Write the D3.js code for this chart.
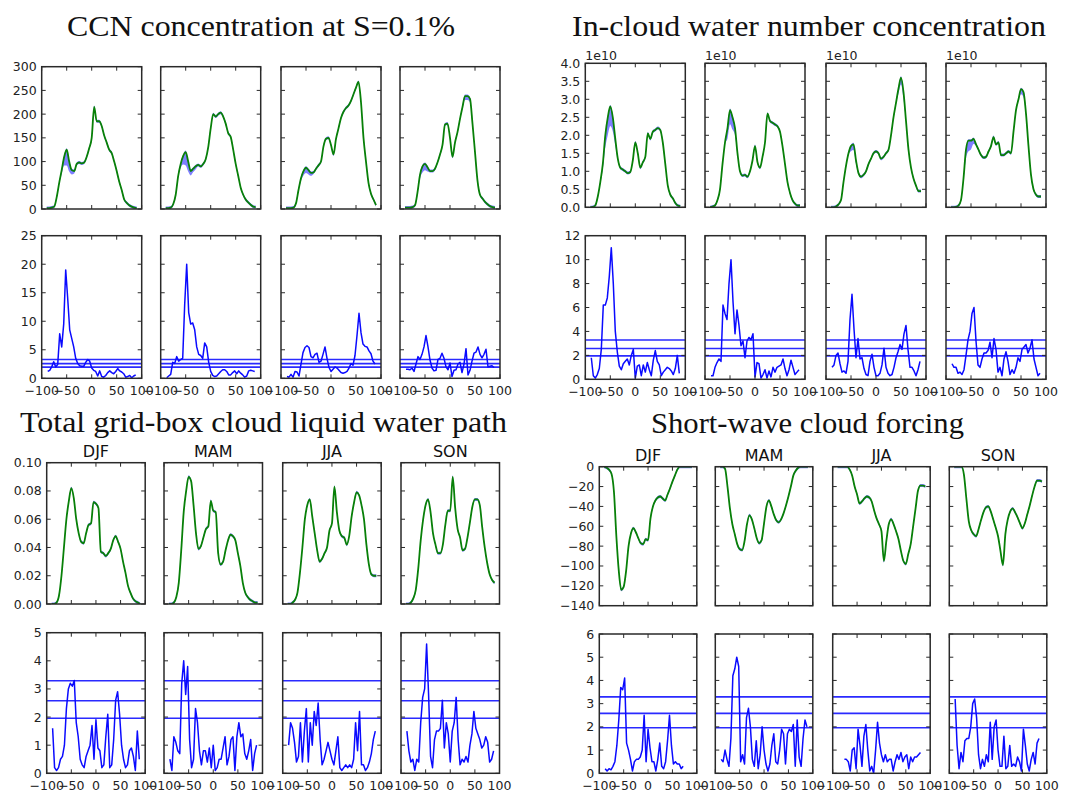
<!DOCTYPE html>
<html>
<head>
<meta charset="utf-8">
<script src="https://cdnjs.cloudflare.com/ajax/libs/d3/7.8.5/d3.min.js"></script>
<style>
  body { margin: 0; background: #fff; }
  svg { display: block; }
  .tick-label { font-family: "DejaVu Sans", sans-serif; font-size: 12.5px; fill: #222; }
  .season { font-family: "DejaVu Sans", sans-serif; font-size: 16px; fill: #111; }
  .quad-title { font-family: "Liberation Serif", serif; font-size: 30px; fill: #111; }
</style>
</head>
<body>
<div id="chart"></div>
<script>

// Latitude grids
var latTop = [-90,-85,-80,-75,-70,-65,-60,-55,-50,-45,-40,-35,-30,-25,-20,-15,-10,-5,0,5,10,15,20,25,30,35,40,45,50,55,60,65,70,75,80,85,90];
var latBot = [-88,-84,-80,-76,-72,-68,-64,-60,-56,-52,-48,-44,-40,-36,-32,-28,-24,-20,-16,-12,-8,-4,0,4,8,12,16,20,24,28,32,36,40,44,48,52,56,60,64,68,72,76,80,84,88];

var seasons = ["DJF", "MAM", "JJA", "SON"];
var xTicks = [-100, -50, 0, 50, 100];
var sigLevels = [1.96, 2.58, 3.29];

// Tick values
var ccnTicks = [0, 50, 100, 150, 200, 250, 300];
var ccnSigTicks = [0, 5, 10, 15, 20, 25];
var cdncTicks = [0, 0.5, 1.0, 1.5, 2.0, 2.5, 3.0, 3.5, 4.0];
var cdncSigTicks = [0, 2, 4, 6, 8, 10, 12];
var lwpTicks = [0, 0.02, 0.04, 0.06, 0.08, 0.10];
var lwpSigTicks = [0, 1, 2, 3, 4, 5];
var swcfTicks = [-140, -120, -100, -80, -60, -40, -20, 0];
var swcfSigTicks = [0, 1, 2, 3, 4, 5, 6];

// CCN concentration at S=0.1% (green line) and spread of the blue band
var ccnDJF = [2,2,3,5,25,55,82,110,125,100,82,80,95,98,96,98,110,128,150,215,185,185,175,155,140,125,118,100,80,58,40,20,13,8,5,3,2];
var ccnMAM = [2,2,3,10,30,70,95,112,120,100,80,85,90,93,90,95,105,130,170,200,195,200,203,195,180,160,152,125,95,70,45,30,20,14,9,5,4];
var ccnJJA = [2,2,2,3,12,40,65,80,87,82,76,77,85,92,100,132,148,150,135,115,148,170,192,205,213,218,228,242,256,268,225,150,100,55,32,20,8];
var ccnSON = [3,3,3,4,8,35,72,90,95,88,80,80,85,98,115,135,178,180,150,110,140,162,190,215,238,238,232,180,120,60,30,22,15,10,6,4,3];
var ccnSpreadDJF = [0,0,0,0,0,0,5,15,30,18,6,2,0,0,0,0,0,0,0,0,0,0,0,0,0,0,0,0,0,0,0,0,0,0,0,0,0];
var ccnSpreadMAM = [0,0,0,0,0,0,5,15,25,18,6,4,3,0,0,0,0,0,0,0,0,0,0,0,0,0,0,0,0,0,0,0,0,0,0,0,0];
var ccnSpreadJJA = [0,0,0,0,0,0,3,6,8,6,3,0,0,0,0,0,0,0,0,0,0,0,0,0,0,0,0,0,0,0,0,0,0,0,0,0,0];
var ccnSpreadSON = [0,0,0,0,0,0,5,10,10,6,0,0,0,0,0,0,0,0,0,0,0,0,0,0,5,5,4,0,0,0,0,0,0,0,0,0,0];

var ccnSigDJF = [1.2,1.4,2.0,2.9,2.0,2.4,7.8,5.5,9.5,19,14,8.5,7,5.5,3.5,2.6,2.2,2.1,2.1,2.8,3.3,3.0,1.8,1.4,1.2,0.4,1.3,0.3,0.2,0.5,1.0,1.3,1.0,0.8,1.2,1.7,1.3,1.1,0.8,0.2,0.3,0.5,0.1,0.4,0.6];
var ccnSigMAM = [0.1,0.4,0.7,2.8,2.6,3.8,3.0,3.3,3.5,13,20,11.5,9.5,9.7,8.5,5.5,4.2,4.0,3.5,6.2,5.5,2.8,1.2,0.5,0.3,0.4,0.8,1.2,1.5,1.5,1.2,0.6,0.6,1.0,1.3,0.8,1.3,0.9,0.6,0.2,0.4,1.3,1.4,1.3,1.2];
var ccnSigJJA = [0.3,0.2,0.7,0.2,1.2,1.1,0.4,2.5,4.5,5.4,5.7,5.4,3.8,3.6,4.2,4.4,2.8,3.0,4.2,5.5,3.5,1.9,1.2,1.6,2.0,1.8,1.4,1.0,0.9,1.0,1.2,1.8,2.6,2.3,4.0,7.5,11.4,8,6,5.6,5.5,4.8,4.3,3.0,2.5];
var ccnSigSON = [1.6,1.6,1.5,1.8,1.2,2.5,3.8,3.3,4.2,5.5,7.5,5.5,3.2,1.8,1.3,1.4,3.3,3.5,4.4,3.5,2.0,1.5,2.7,0.3,1.4,1.5,2.5,2.8,1.0,2.5,5.2,0.6,1.4,3.0,4.4,4.6,5.5,4.2,3.6,4.2,5.1,2.0,2.1,2.2,1.9];

// In-cloud water number concentration (x 1e10)
var cdncDJF = [0,0.01,0.05,0.3,0.7,1.2,2.0,2.5,2.8,2.5,1.9,1.35,1.1,1.05,1.0,0.95,0.98,1.3,1.8,1.5,1.1,1.25,1.4,2.05,1.9,2.1,2.15,2.2,2.15,1.8,1.2,0.6,0.35,0.25,0.12,0.05,0.03];
var cdncMAM = [0,0.02,0.05,0.2,0.5,1.2,1.8,2.2,2.7,2.5,2.2,1.5,1.0,0.88,0.9,0.85,1.0,1.3,1.7,1.25,1.1,1.4,1.8,2.6,2.4,2.35,2.3,2.25,2.1,1.7,1.2,0.7,0.4,0.2,0.1,0.05,0.05];
var cdncJJA = [0,0,0.02,0.08,0.2,0.7,1.15,1.5,1.7,1.75,1.3,0.95,0.85,0.9,1.0,1.2,1.35,1.5,1.55,1.5,1.35,1.4,1.5,1.6,2.0,2.5,2.9,3.3,3.6,3.2,2.4,1.6,1.1,0.8,0.6,0.45,0.45];
var cdncSON = [0,0,0.01,0.05,0.2,0.8,1.6,1.85,1.85,1.9,1.75,1.6,1.45,1.38,1.4,1.55,1.7,1.95,1.75,1.8,1.45,1.45,1.5,1.55,1.5,2.1,2.7,3.0,3.28,3.2,2.6,1.7,0.9,0.5,0.35,0.3,0.3];
var cdncSpreadDJF = [0,0,0,0,0,0.1,0.3,0.45,0.5,0.35,0.15,0,0,0,0,0,0,0,0,0,0,0,0,0,0,0,0,0,0,0,0,0,0,0,0,0,0];
var cdncSpreadMAM = [0,0,0,0,0,0,0,0.25,0.35,0.3,0.15,0,0,0,0,0,0,0,0,0,0,0,0,0,0,0,0,0,0,0,0,0,0,0,0,0,0];
var cdncSpreadJJA = [0,0,0,0,0,0,0,0,0.1,0.12,0.05,0,0,0,0,0,0,0,0,0,0,0,0,0,0,0,0,0.1,0.15,0.15,0,0,0,0,0,0,0];
var cdncSpreadSON = [0,0,0,0,0,0,0.2,0.25,0.2,0.1,0,0,0,0,0,0,0,0,0,0,0,0,0,0,0,0,0,0,0.1,0.1,0,0,0,0,0,0,0];

var cdncSigDJF = [1.8,0.3,0.1,0.4,0.9,2.5,6.2,6.2,6.8,8.6,11,8,4,2.3,1.1,0.8,1.3,1.5,1.7,1.2,2.0,2.5,0.1,1.1,1.2,0.3,1.2,0.6,1.4,0.8,0.3,1.6,2.4,1.5,1.2,0.3,0.6,0.8,1.0,0.9,0.7,0.4,0.9,2.0,0.5];
var cdncSigMAM = [0.3,0.3,1.0,1.4,1.7,1.5,6.2,5.5,5.0,8.0,10,6.5,3.8,5.8,4.5,2.8,3.2,1.8,3.2,3.5,3.3,3.8,0.2,1.4,1.3,0.1,0.4,0.8,0.1,0.7,0.2,1.0,0.6,1.0,1.1,1.2,1.7,0.9,0.3,0.8,1.6,1.0,0.4,0.6,0.8];
var cdncSigJJA = [1.0,1.2,2.0,2.2,1.3,0.6,0.7,0.5,1.5,5.0,7.1,4.2,1.8,3.4,1.7,1.8,0.9,0.4,0.3,1.5,2.1,1.0,0.3,0.3,0.5,1.2,2.6,1.0,0.5,0.3,0.4,1.0,1.8,2.3,2.9,2.5,3.8,4.5,2.5,1.0,1.0,0.7,0.3,0.8,1.5];
var cdncSigSON = [1.3,1.0,1.0,0.5,0.6,0.4,0.8,2.0,3.3,4.0,5.5,6.0,3.2,1.2,1.0,1.7,2.2,2.2,2.4,3.1,1.8,3.4,2.5,0.6,1.0,0.3,1.7,2.3,1.5,0.4,0.8,0.5,1.0,1.8,1.5,2.5,2.7,2.9,2.2,2.6,3.3,1.7,1.0,0.3,0.5];

// Total grid-box cloud liquid water path
var lwpDJF = [0,0,0.001,0.006,0.02,0.04,0.06,0.073,0.082,0.075,0.06,0.05,0.044,0.043,0.05,0.056,0.057,0.072,0.071,0.068,0.037,0.036,0.034,0.036,0.039,0.045,0.048,0.044,0.039,0.03,0.022,0.013,0.008,0.004,0.002,0.001,0];
var lwpMAM = [0,0,0.001,0.005,0.015,0.038,0.065,0.08,0.09,0.087,0.07,0.05,0.039,0.041,0.047,0.053,0.055,0.073,0.066,0.065,0.036,0.028,0.03,0.038,0.045,0.049,0.048,0.045,0.036,0.027,0.015,0.008,0.005,0.003,0.002,0.001,0.001];
var lwpJJA = [0,0,0.001,0.003,0.008,0.022,0.04,0.06,0.07,0.074,0.062,0.05,0.038,0.03,0.032,0.036,0.04,0.052,0.057,0.083,0.065,0.052,0.048,0.047,0.042,0.048,0.062,0.072,0.079,0.077,0.07,0.06,0.042,0.028,0.021,0.02,0.02];
var lwpSON = [0,0,0.001,0.004,0.01,0.025,0.045,0.06,0.07,0.074,0.065,0.05,0.042,0.036,0.036,0.042,0.056,0.066,0.066,0.09,0.068,0.053,0.047,0.038,0.039,0.047,0.058,0.069,0.074,0.074,0.07,0.054,0.04,0.029,0.021,0.017,0.015];

var lwpSigDJF = [1.6,0.2,0.1,0.2,0.5,0.6,1.0,2.3,3.0,3.2,3.1,3.3,1.8,1.3,0.5,0.3,0.2,0.6,0.8,1.0,1.7,0.5,1.9,0.9,0.8,0.2,0.3,1.3,2.1,0.2,0.3,1.2,2.6,2.9,2.1,1.0,0.5,0.2,0.3,0.8,0.9,0.6,0.1,1.5,0.5];
var lwpSigMAM = [0.5,0.1,1.3,1.1,0.8,0.7,3.2,4.0,2.8,3.8,1.2,0.2,0.5,2.3,1.8,0.8,0.3,0.8,0.8,0.4,0.9,0.2,1.0,0.1,0.2,0.5,0.5,0.9,1.3,0.3,0.6,1.2,1.3,0.1,1.3,1.8,1.3,1.4,0.7,0.5,0.8,1.2,0.1,0.7,1.0];
var lwpSigJJA = [1.0,1.8,1.6,1.1,0.4,0.6,1.8,0.4,1.5,2.3,0.4,1.8,1.0,2.2,1.7,2.5,1.2,0.3,0.5,0.8,1.1,0.8,0.5,0.3,0.8,1.3,0.2,0.1,0.2,0.3,0.2,0.3,0.2,0.5,1.8,0.8,2.2,0.3,0.3,0.1,0.2,0.4,0.7,1.2,1.5];
var lwpSigSON = [1.5,0.8,0.4,0.5,0.1,0.5,0.4,1.8,2.7,3.0,4.6,2.8,0.6,0.2,1.2,1.5,1.5,1.6,2.6,0.9,1.8,1.4,0.4,1.5,1.8,2.7,1.2,0.3,0.5,0.4,0.6,0.4,1.0,1.4,2.2,1.6,1.4,1.2,0.9,1.0,1.3,1.1,0.4,0.5,0.8];

// Short-wave cloud forcing
var swcfDJF = [0,-1,-3,-7,-25,-70,-105,-124,-121,-105,-80,-67,-62,-66,-72,-77,-78,-73,-74,-52,-40,-34,-31,-30,-32,-34,-28,-22,-15,-9,-3,0,0,0,0,0,0];
var swcfMAM = [0,0,-2,-20,-42,-58,-68,-78,-83,-84,-75,-58,-49,-53,-62,-72,-77,-74,-57,-40,-34,-40,-48,-54,-56,-53,-47,-39,-30,-20,-9,-4,-1,0,0,0,0];
var swcfJJA = [0,0,0,0,0,-3,-9,-20,-28,-37,-35,-32,-30,-31,-35,-44,-52,-58,-65,-95,-75,-58,-53,-58,-65,-73,-85,-95,-98,-88,-78,-60,-42,-24,-19,-19,-20];
var swcfSON = [0,0,0,0,-8,-32,-55,-64,-68,-70,-63,-54,-46,-41,-40,-45,-53,-61,-70,-85,-99,-68,-53,-45,-42,-46,-51,-57,-62,-57,-48,-39,-29,-20,-14,-14,-15];

var swcfSigDJF = [0.2,0.1,0.2,0.15,0.3,0.5,1.2,2.3,3.7,3.6,4.1,1.3,1.0,0.6,0.1,0.5,0.6,0.6,0.7,1.0,2.5,0.5,1.9,1.1,0.5,0.5,0.1,0.6,1.3,0.3,0.2,0.5,1.4,2.5,1.2,0.4,0.5,0.4,0.4,0.2,0.3,null,null,null,null];
var swcfSigMAM = [0.6,0.5,1.0,0.6,0.3,1.5,4.2,4.5,5.0,4.6,0.5,0.8,0.4,2.4,2.8,2.0,0.6,0.3,1.4,0.2,0.8,2.0,1.0,0.4,0.1,0.4,1.2,1.7,0.5,0.4,1.0,1.9,1.7,0.4,1.7,1.9,1.8,2.1,0.3,2.3,0.7,0.3,1.5,2.3,2.0];
var swcfSigJJA = [null,null,null,0.6,0.6,0.5,0.1,1.0,1.1,0.2,1.9,1.2,0.3,1.6,2.1,1.0,0.1,0.3,0.0,1.0,2.2,1.3,0.8,0.5,0.8,0.5,0.6,0.6,0.1,0.5,0.8,0.6,0.9,0.5,0.7,0.8,0.2,0.7,0.5,0.7,0.7,0.8,0.9,null,null];
var swcfSigSON = [3.2,1.2,0.2,0.9,0.5,1.4,1.5,1.5,2.0,3.0,3.2,2.4,0.8,0.2,0.6,0.3,0.8,0.5,2.2,0.6,2.0,2.3,1.0,0.3,0.3,1.6,0.2,0.3,1.2,0.3,0.4,0.3,0.7,0.5,0.1,1.9,1.2,0.4,0.1,0.6,0.9,0.4,1.3,1.5,null];


// --> CREATE SVG DRAWING AREA
var width = 1072,
    height = 791;

var svg = d3.select("#chart").append("svg")
    .attr("width", width)
    .attr("height", height);

var formatX = d3.format("d");

// Quadrant layouts (positions in px)
var quads = [
    { title: "CCN concentration at S=0.1%", tx: 261, ty: 36, tw: 388,
      xs: [41.7, 160.7, 281, 400], w: 100, top: [66.7, 209], bot: [235.7, 378.3],
      mean: [ccnDJF, ccnMAM, ccnJJA, ccnSON],
      spread: [ccnSpreadDJF, ccnSpreadMAM, ccnSpreadJJA, ccnSpreadSON],
      sig: [ccnSigDJF, ccnSigMAM, ccnSigJJA, ccnSigSON],
      ticks: ccnTicks, fmt: d3.format("d"), sigTicks: ccnSigTicks,
      seasonLabels: false, offsetText: null },
    { title: "In-cloud water number concentration", tx: 809, ty: 36, tw: 474,
      xs: [585.3, 705, 826, 946], w: 100, top: [63.3, 207.3], bot: [235.7, 379.3],
      mean: [cdncDJF, cdncMAM, cdncJJA, cdncSON],
      spread: [cdncSpreadDJF, cdncSpreadMAM, cdncSpreadJJA, cdncSpreadSON],
      sig: [cdncSigDJF, cdncSigMAM, cdncSigJJA, cdncSigSON],
      ticks: cdncTicks, fmt: d3.format(".1f"), sigTicks: cdncSigTicks,
      seasonLabels: false, offsetText: "1e10" },
    { title: "Total grid-box cloud liquid water path", tx: 263.5, ty: 431.7, tw: 487,
      xs: [46.7, 164, 282.7, 401], w: 98.5, top: [462.7, 604], bot: [632.7, 773.3],
      mean: [lwpDJF, lwpMAM, lwpJJA, lwpSON],
      spread: [null, null, null, null],
      sig: [lwpSigDJF, lwpSigMAM, lwpSigJJA, lwpSigSON],
      ticks: lwpTicks, fmt: d3.format(".2f"), sigTicks: lwpSigTicks,
      seasonLabels: true, offsetText: null },
    { title: "Short-wave cloud forcing", tx: 807.5, ty: 433.3, tw: 313,
      xs: [599.3, 715.3, 832.7, 949.3], w: 97.5, top: [466.7, 605.7], bot: [634, 773.3],
      mean: [swcfDJF, swcfMAM, swcfJJA, swcfSON],
      spread: [null, null, null, null],
      sig: [swcfSigDJF, swcfSigMAM, swcfSigJJA, swcfSigSON],
      ticks: swcfTicks, fmt: d3.format("d"), sigTicks: swcfSigTicks,
      seasonLabels: true, offsetText: null }
];

var clipCount = 0;

// Draw one small panel (frame, inward ticks, labels)
function drawFrame(g, x, y, yTicks, yFmt, showY, showX) {
    var r = x.range(), d = y.range();
    var x0 = r[0], x1 = r[1], yb = d[0], yt = d[1];

    g.append("rect")
        .attr("x", x0).attr("y", yt)
        .attr("width", x1 - x0).attr("height", yb - yt)
        .attr("fill", "none")
        .attr("stroke", "#2a2a2a")
        .attr("stroke-width", 1.5);

    // y ticks, both sides, pointing in
    yTicks.forEach(function(t) {
        var yy = y(t);
        g.append("line").attr("x1", x0).attr("x2", x0 + 4).attr("y1", yy).attr("y2", yy)
            .attr("stroke", "#2a2a2a").attr("stroke-width", 1);
        g.append("line").attr("x1", x1 - 4).attr("x2", x1).attr("y1", yy).attr("y2", yy)
            .attr("stroke", "#2a2a2a").attr("stroke-width", 1);
        if (showY) {
            g.append("text")
                .attr("class", "tick-label")
                .attr("x", x0 - 5)
                .attr("y", yy)
                .attr("dy", "0.36em")
                .attr("text-anchor", "end")
                .text(yFmt(t));
        }
    });

    // x ticks, top and bottom
    xTicks.forEach(function(t) {
        var xx = x(t);
        g.append("line").attr("x1", xx).attr("x2", xx).attr("y1", yb).attr("y2", yb - 4)
            .attr("stroke", "#2a2a2a").attr("stroke-width", 1);
        g.append("line").attr("x1", xx).attr("x2", xx).attr("y1", yt).attr("y2", yt + 4)
            .attr("stroke", "#2a2a2a").attr("stroke-width", 1);
        if (showX) {
            g.append("text")
                .attr("class", "tick-label")
                .attr("x", xx)
                .attr("y", yb + 16.5)
                .attr("text-anchor", "middle")
                .text(formatX(t));
        }
    });
}

function addClip(x, y) {
    var id = "clip" + (clipCount++);
    var r = x.range(), d = y.range();
    svg.append("clipPath").attr("id", id)
        .append("rect")
        .attr("x", r[0]).attr("y", d[1])
        .attr("width", r[1] - r[0]).attr("height", d[0] - d[1]);
    return "url(#" + id + ")";
}

quads.forEach(function(q) {

    var qg = svg.append("g").attr("class", "quad");

    // Quadrant title
    qg.append("text")
        .attr("class", "quad-title")
        .attr("x", q.tx)
        .attr("y", q.ty)
        .attr("text-anchor", "middle")
        .attr("textLength", q.tw)
        .attr("lengthAdjust", "spacingAndGlyphs")
        .text(q.title);

    var meanDomain = [q.ticks[0], q.ticks[q.ticks.length - 1]];
    var sigDomain = [q.sigTicks[0], q.sigTicks[q.sigTicks.length - 1]];

    seasons.forEach(function(s, i) {

        var x = d3.scaleLinear().domain([-100, 100]).range([q.xs[i], q.xs[i] + q.w]);

        // ---- Top panel: ensemble band + green mean ----
        var yTop = d3.scaleLinear().domain(meanDomain).range([q.top[1], q.top[0]]);
        var gTop = qg.append("g");
        var clipTop = addClip(x, yTop);

        var mean = q.mean[i];
        var spread = q.spread[i];
        var rows = latTop.map(function(lat, k) {
            return { lat: lat, v: mean[k], sp: spread ? spread[k] : 0 };
        });

        var band = d3.area()
            .x(function(d) { return x(d.lat); })
            .y0(function(d) { return yTop(d.v - d.sp) + 1.5; })
            .y1(function(d) { return yTop(d.v) - 1.5; })
            .curve(d3.curveMonotoneX);

        gTop.append("path")
            .datum(rows)
            .attr("clip-path", clipTop)
            .attr("d", band)
            .attr("fill", "#0000ff")
            .attr("fill-opacity", 0.5);

        var meanLine = d3.line()
            .x(function(d) { return x(d.lat); })
            .y(function(d) { return yTop(d.v); })
            .curve(d3.curveMonotoneX);

        gTop.append("path")
            .datum(rows)
            .attr("clip-path", clipTop)
            .attr("d", meanLine)
            .attr("fill", "none")
            .attr("stroke", "#088008")
            .attr("stroke-width", 1.8);

        drawFrame(gTop, x, yTop, q.ticks, q.fmt, i === 0, false);

        if (q.seasonLabels) {
            gTop.append("text")
                .attr("class", "season")
                .attr("x", q.xs[i] + q.w / 2)
                .attr("y", q.top[0] - 5.5)
                .attr("text-anchor", "middle")
                .text(s);
        }
        if (q.offsetText) {
            gTop.append("text")
                .attr("class", "tick-label")
                .attr("x", q.xs[i])
                .attr("y", q.top[0] - 3.5)
                .text(q.offsetText);
        }

        // ---- Bottom panel: significance ----
        var yBot = d3.scaleLinear().domain(sigDomain).range([q.bot[1], q.bot[0]]);
        var gBot = qg.append("g");
        var clipBot = addClip(x, yBot);

        gBot.selectAll(".level")
            .data(sigLevels)
            .enter().append("line")
            .attr("class", "level")
            .attr("clip-path", clipBot)
            .attr("x1", x(-100)).attr("x2", x(100))
            .attr("y1", function(d) { return yBot(d); })
            .attr("y2", function(d) { return yBot(d); })
            .attr("stroke", "#2a2aff")
            .attr("stroke-width", 1.6);

        var sigRows = latBot.map(function(lat, k) {
            return { lat: lat, v: q.sig[i][k] };
        });

        var sigLine = d3.line()
            .defined(function(d) { return d.v !== null; })
            .x(function(d) { return x(d.lat); })
            .y(function(d) { return yBot(d.v); });

        gBot.append("path")
            .datum(sigRows)
            .attr("clip-path", clipBot)
            .attr("d", sigLine)
            .attr("fill", "none")
            .attr("stroke", "#0a0aff")
            .attr("stroke-width", 1.5)
            .attr("stroke-linejoin", "round");

        drawFrame(gBot, x, yBot, q.sigTicks, d3.format("d"), i === 0, true);
    });
});

</script>
</body>
</html>
